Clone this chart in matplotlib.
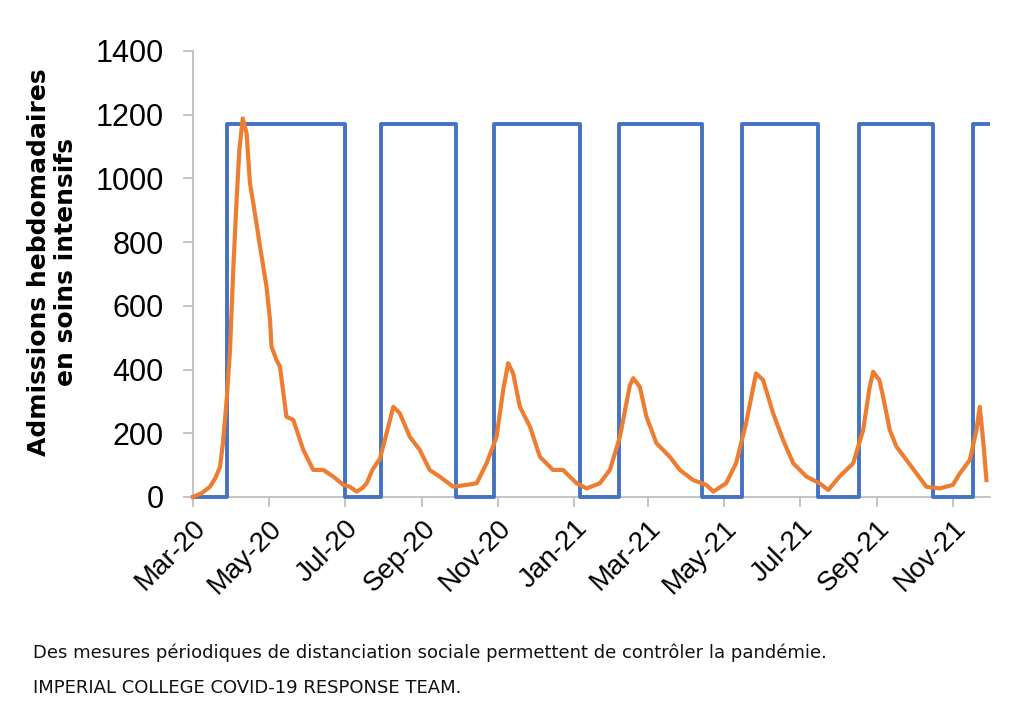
import matplotlib
matplotlib.use("Agg")
import matplotlib.pyplot as plt
import matplotlib.dates as mdates
import pandas as pd

start = pd.Timestamp("2020-03-01")
end_day = 638

# Distancing measures on/off (step function): days since 1 Mar 2020
blue_days = [0, 27, 122, 151, 211, 242, 311, 342, 409, 441, 502, 535, 594, 626, 638]
blue_vals = [0, 1170, 0, 1170, 0, 1170, 0, 1170, 0, 1170, 0, 1170, 0, 1170, 1170]

# Weekly ICU admissions: days since 1 Mar 2020
orange_days = [0, 7, 13.6, 18, 21.7, 24, 27, 29.7, 32.4, 35, 37.2, 39.9, 43, 45.7, 48.4,
               53.8, 59, 61.8, 63, 67, 69.8, 75, 80.5, 88.5, 96.5, 104.6, 112.6, 120.7,
               126, 131.4, 136, 139.4, 144, 150, 154, 160.8, 166, 174, 182, 190, 198,
               209, 219.7, 227.7, 235.7, 243.7, 249, 253, 257, 262.4, 270.5, 278.5, 289,
               297, 308, 316, 326.6, 334.7, 342.7, 350.7, 353.4, 358.7, 364, 372, 382.8,
               390.8, 401.5, 412, 417.7, 428, 436, 444, 452, 457.7, 465.7, 473.7, 481.8,
               492.5, 503, 510, 519, 530, 538, 543, 546, 551, 554, 559.4, 564.7, 572.8,
               580.8, 588.8, 599.5, 610, 615.6, 623.6, 629, 631.6, 634.3, 637]
orange_vals = [0, 12, 32, 60, 95, 169, 304, 461, 723, 932, 1089, 1188, 1142, 985, 922,
               786, 660, 556, 472, 430, 409, 252, 242, 148, 85, 85, 64, 38,
               32, 17, 28, 43, 85, 120, 179, 283, 263, 189, 148, 85, 64,
               32, 38, 43, 106, 189, 336, 420, 388, 283, 221, 126, 85,
               85, 43, 27, 43, 85, 189, 350, 373, 346, 252, 169, 126,
               85, 53, 38, 17, 43, 106, 231, 388, 367, 263, 179, 106,
               64, 43, 22, 64, 106, 210, 340, 393, 367, 315, 210, 158, 116,
               74, 32, 27, 38, 74, 116, 210, 283, 179, 53]

y_ticks = [0, 200, 400, 600, 800, 1000, 1200, 1400]

blue_x = start + pd.to_timedelta(blue_days, unit="D")
orange_x = start + pd.to_timedelta(orange_days, unit="D")

fig = plt.figure(figsize=(10.24, 7.23), dpi=100)
ax = fig.add_axes([0.1885, 0.3126, 0.7785, 0.617])

ax.plot(blue_x, blue_vals, drawstyle="steps-post", color="#4472C4", lw=2.8, zorder=3,
        clip_on=False)
ax.plot(orange_x, orange_vals, color="#ED7D31", lw=3.0, zorder=4, solid_joinstyle="round",
        clip_on=False)

ax.set_xlim(start, start + pd.Timedelta(days=end_day + 2))
ax.set_ylim(0, 1400)
ax.set_yticks(y_ticks)
ax.set_yticklabels([str(v) for v in y_ticks], fontsize=22, family="Liberation Sans")

ax.xaxis.set_major_locator(mdates.MonthLocator(bymonth=[1, 3, 5, 7, 9, 11]))
ax.xaxis.set_major_formatter(mdates.DateFormatter("%b-%y"))
for lab in ax.get_xticklabels():
    lab.set_fontsize(20)
    lab.set_family("Liberation Sans")
    lab.set_rotation(45)
    lab.set_ha("right")
    lab.set_rotation_mode("anchor")

for s in ["top", "right"]:
    ax.spines[s].set_visible(False)
for s in ["left", "bottom"]:
    ax.spines[s].set_color("#BFBFBF")
    ax.spines[s].set_linewidth(1.3)
ax.tick_params(axis="both", colors="#BFBFBF", labelcolor="black", length=7, width=1.3)
ax.tick_params(axis="y", pad=14)
ax.tick_params(axis="x", pad=6)

ax.set_ylabel("Admissions hebdomadaires\nen soins intensifs", fontsize=18,
              fontweight="bold", family="DejaVu Sans", linespacing=1.15)
ax.yaxis.set_label_coords(-0.144, 0.527)

fig.text(0.032, 0.0968, "Des mesures périodiques de distanciation sociale permettent de contrôler la pandémie.",
         fontsize=13, family="DejaVu Sans", va="center", ha="left", color="#111111")
fig.text(0.032, 0.0484, "IMPERIAL COLLEGE COVID-19 RESPONSE TEAM.",
         fontsize=13, family="DejaVu Sans", va="center", ha="left", color="#111111")

fig.savefig("out.png", dpi=100)
